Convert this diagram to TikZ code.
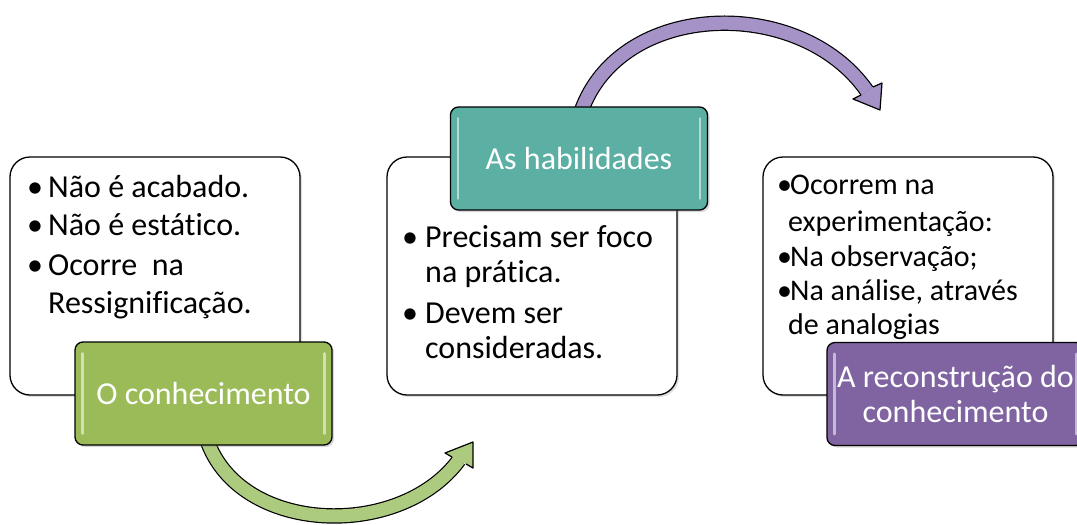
\documentclass[tikz,border=0pt]{standalone}
\usepackage{fontspec}
\setmainfont{Carlito}[Ligatures=NoCommon]
\usetikzlibrary{shadows}
\definecolor{boxgreen}{HTML}{9BBB59}
\definecolor{boxteal}{HTML}{5BAFA3}
\definecolor{boxpurple}{HTML}{8064A2}
\definecolor{arrowgreen}{HTML}{ADCB7E}
\definecolor{arrowpurple}{HTML}{A592C6}
\newcommand{\bul}[1]{\makebox[#1][l]{\textbullet}}
\tikzset{
  textbox/.style={draw=black, line width=1.3pt, rounded corners=20pt, fill=white,
    minimum width=290pt, minimum height=238pt, inner sep=0pt,
    drop shadow={shadow xshift=2pt, shadow yshift=-2pt, opacity=0.25}},
  tagbox/.style={draw=black, line width=1.3pt, rounded corners=8pt,
    minimum width=257pt, minimum height=103pt, inner sep=0pt, text=white,
    align=center, font=\fontsize{32}{35}\selectfont,
    drop shadow={shadow xshift=2pt, shadow yshift=-2pt, opacity=0.3}},
  itemtext/.style={anchor=base west, inner sep=0pt, font=\fontsize{32}{36}\selectfont},
  smalltext/.style={anchor=base west, inner sep=0pt, font=\fontsize{30}{34}\selectfont},
  gloss/.style={white, opacity=0.55, line width=2.5pt, line cap=round},
  curvearrow/.style={line width=1.2pt, double distance=13pt},
}
\begin{document}
\begin{tikzpicture}[x=1pt, y=-1pt]
\useasboundingbox (0,0) rectangle (1077,525);
% white boxes
\node [textbox] (box1) at (155,276) {};
\node [textbox] (box2) at (532,276) {};
\node [textbox] (box3) at (908,276) {};
% curved arrows
\coordinate (gstart) at (207,440);
\coordinate (gend) at (459,460);
\draw [curvearrow, double=arrowgreen] (gstart) .. controls (240,535) and (400,540) .. (gend);
\fill [arrowgreen] (452,457) -- (445,453) -- (473,442) -- (473,468) -- (466,464) -- cycle;
\draw [line width=1.2pt, line join=round] (452,457) -- (445,453) -- (473,442) -- (473,468) -- (466,464);
\coordinate (pstart) at (581,112);
\coordinate (pend) at (867,91);
\draw [curvearrow, double=arrowpurple] (pstart) .. controls (620,0) and (800,-5) .. (pend);
\fill [arrowpurple] (861,95) -- (853,99) -- (880,110) -- (882,83) -- (873,87) -- cycle;
\draw [line width=1.2pt, line join=round] (861,95) -- (853,99) -- (880,110) -- (882,83) -- (873,87);
% coloured tags
\node [tagbox, fill=boxgreen] (know) at (203.5,393.5) {O conhecimento};
\node [tagbox, fill=boxteal] (skill) at (579,158.5) {As habilidades};
\node [tagbox, fill=boxpurple] (rebuild) at (955.5,394) {A reconstrução do\\conhecimento};
\foreach \n in {know, skill, rebuild} {
  \draw [gloss] ([xshift=8pt, yshift=-12pt]\n.north west) -- ([xshift=8pt, yshift=12pt]\n.south west);
  \draw [gloss] ([xshift=-8pt, yshift=-12pt]\n.north east) -- ([xshift=-8pt, yshift=12pt]\n.south east);
}
% texts of box 1
\node [itemtext] (k1) at (27,197) {\bul{21pt}Não é acabado.};
\node [itemtext] (k2) at (27,235) {\bul{21pt}Não é estático.};
\node [itemtext] (k3) at (27,275) {\bul{21pt}Ocorre\ \ na};
\node [itemtext] (k4) at (48,313) {Ressignificação.};
% texts of box 2
\node [itemtext] (s1) at (402,247) {\bul{23pt}Precisam ser foco};
\node [itemtext] (s2) at (425,282) {na prática.};
\node [itemtext] (s3) at (402,323) {\bul{23pt}Devem ser};
\node [itemtext] (s4) at (425,358) {consideradas.};
% texts of box 3
\node [smalltext] (r1) at (777,194) {\bul{13pt}Ocorrem na};
\node [smalltext] (r2) at (788,231) {experimentação:};
\node [smalltext] (r3) at (777,266) {\bul{13pt}Na observação;};
\node [smalltext] (r4) at (777,300) {\bul{13pt}Na análise, através};
\node [smalltext] (r5) at (788,334) {de analogias};
\end{tikzpicture}
\end{document}
